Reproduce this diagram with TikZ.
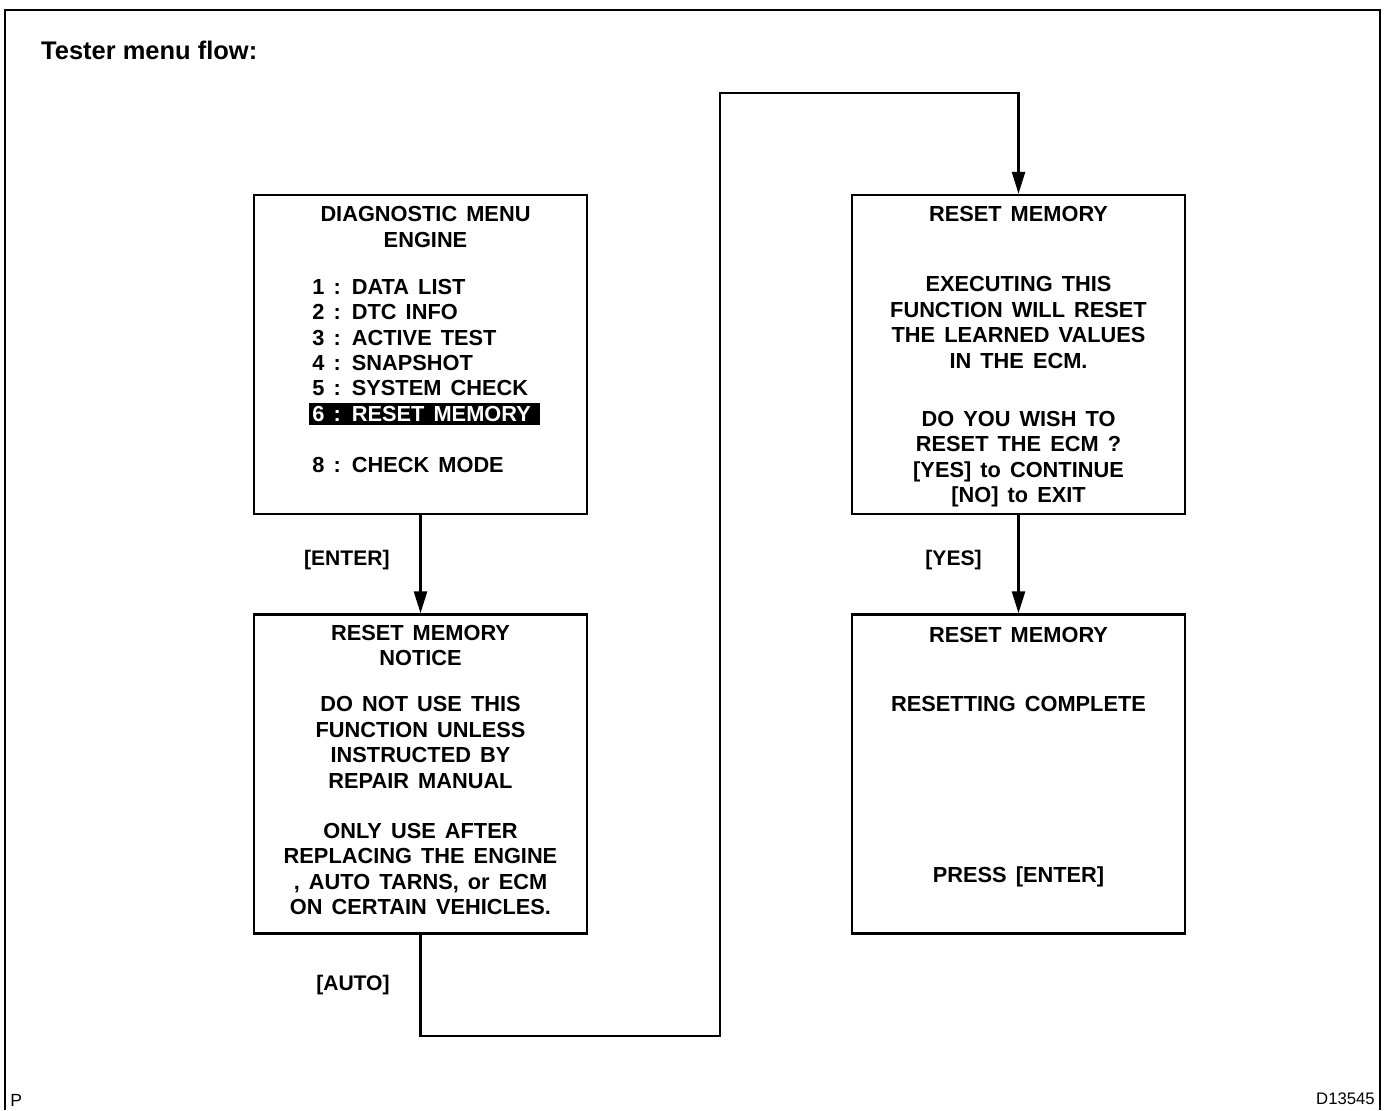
\documentclass[tikz,border=0pt]{standalone}
\usepackage{fontspec}
\setmainfont{Liberation Sans}
\newfontfamily\scrfont{Liberation Sans}[WordSpace=1.5]
\usepackage{xcolor}
\usepackage{tikz}
\usetikzlibrary{arrows.meta, positioning}
\setlength{\fboxsep}{2pt}

\begin{document}
\begin{tikzpicture}[x=0.02cm,y=-0.02cm,
  scr/.style={draw,line width=1.4pt,minimum width=6.66cm,minimum height=6.38cm,inner sep=0pt},
  txt/.style={align=center,inner sep=0pt,font=\scrfont\bfseries\fontsize{12.4}{14.5}\selectfont},
  lbl/.style={inner sep=0pt,font=\bfseries\fontsize{12}{14.5}\selectfont},
  flow/.style={line width=1.4pt,-{Triangle[length=0.44cm,width=0.26cm]}}]
  \useasboundingbox (0,0) rectangle (1385,1110);
  \draw[line width=1.1pt] (5,1110) -- (5,10) -- (1380,10) -- (1380,1110);
  \node[anchor=west,font=\bfseries\fontsize{14.5}{17}\selectfont] (title) at (35,50) {Tester menu flow:};

  \node[scr] (menu) at (420.5,354.5) {};
  \node[scr] (notice) at (420.5,774) {};
  \node[scr] (confirm) at (1018.5,354.5) {};
  \node[scr] (done) at (1018.5,774) {};

  \node[txt,below=0.25cm of menu.north,xshift=0.1cm] (menuhead) {DIAGNOSTIC MENU\\ENGINE};
  \node[txt,align=left,anchor=north west] (menulist) at (312,278.5) {1 : DATA LIST\\2 : DTC INFO\\3 : ACTIVE TEST\\4 : SNAPSHOT\\5 : SYSTEM CHECK\\\hspace*{-2pt}\colorbox{black}{\textcolor{white}{6 : RESET MEMORY\hspace{3pt}}}\\[0.51cm]8 : CHECK MODE};
  \node[txt,below=0.23cm of notice.north] (noticetext) {RESET MEMORY\\NOTICE\\[0.41cm]DO NOT USE THIS\\FUNCTION UNLESS\\INSTRUCTED BY\\REPAIR MANUAL\\[0.49cm]ONLY USE AFTER\\REPLACING THE ENGINE\\, AUTO TARNS, or ECM\\ON CERTAIN VEHICLES.};
  \node[txt,below=0.25cm of confirm.north] (confirmtext) {RESET MEMORY\\[0.89cm]EXECUTING THIS\\FUNCTION WILL RESET\\THE LEARNED VALUES\\IN THE ECM.\\[0.65cm]DO YOU WISH TO\\RESET THE ECM ?\\{[YES]} to CONTINUE\\{[NO]} to EXIT};
  \node[txt,below=0.27cm of done.north] (donetext) {RESET MEMORY\\[0.87cm]RESETTING COMPLETE\\[2.91cm]PRESS [ENTER]};

  \coordinate (low) at (720,1036);
  \coordinate (high) at (720,93);
  \draw[flow] (menu) -- (notice);
  \draw[flow] (notice.south) |- (low) -- (high) -| (confirm.north);
  \draw[flow] (confirm) -- (done);

  \node[lbl,anchor=east] (enterlbl) at (390,560) {[ENTER]};
  \node[lbl,anchor=east] (autolbl) at (390,985) {[AUTO]};
  \node[lbl,anchor=east] (yeslbl) at (982,560) {[YES]};

  \node[anchor=base east,inner sep=0pt,font=\fontsize{9.5}{11}\selectfont] (code) at (1375,1104) {D13545};
  \node[anchor=base west,inner sep=0pt,font=\fontsize{10}{12}\selectfont] (pmark) at (10,1106) {P};
\end{tikzpicture}
\end{document}
